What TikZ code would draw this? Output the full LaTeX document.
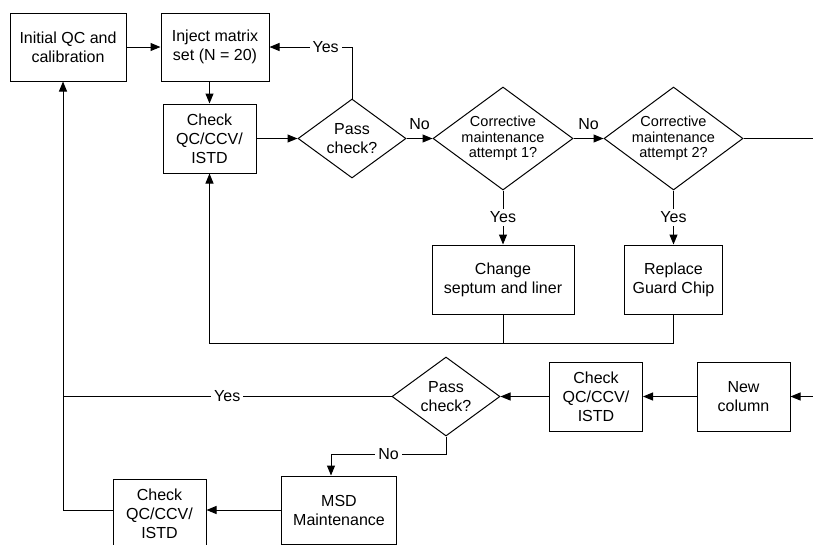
\documentclass[tikz,border=0pt]{standalone}
\usepackage{fontspec}
\setmainfont{Liberation Sans}
\usetikzlibrary{arrows.meta,shapes.geometric}

\begin{document}
\begin{tikzpicture}[
    x=1pt, y=-1pt,
    every node/.style={font=\fontsize{16}{19}\selectfont},
    box/.style={rectangle, draw, line width=1pt, align=center, inner sep=0pt},
    decision/.style={diamond, draw, line width=1pt, inner sep=0pt},
    dtext/.style={align=center},
    smalltext/.style={align=center, font=\fontsize{14.5}{15.5}\selectfont},
    arrow/.style={-{Triangle[length=10pt,width=8pt]}, line width=1pt},
    line/.style={line width=1pt},
    lbl/.style={fill=white, inner sep=3pt}
]
\useasboundingbox (0,0) rectangle (813,544);
\clip (0,0) rectangle (813,544);

% Nodes
\node[box, minimum width=116, minimum height=68] (init) at (68,47) {Initial QC and\\calibration};
\node[box, minimum width=108, minimum height=68] (inject) at (215,47) {Inject matrix\\set (N = 20)};
\node[box, minimum width=93, minimum height=69] (check1) at (209.5,138.5) {Check\\QC/CCV/\\ISTD};
\node[decision, minimum width=108, minimum height=79, label={[dtext]center:Pass\\check?}] (pass1) at (352,138.5) {};
\node[decision, minimum width=140, minimum height=103, label={[smalltext]center:Corrective\\maintenance\\attempt 1?}] (attempt1) at (503,138.5) {};
\node[decision, minimum width=139, minimum height=103, label={[smalltext]center:Corrective\\maintenance\\attempt 2?}] (attempt2) at (673.5,138.5) {};
\node[box, minimum width=142, minimum height=69] (septum) at (503,279.5) {Change\\septum and liner};
\node[box, minimum width=98, minimum height=69] (guard) at (673.5,279.5) {Replace\\Guard Chip};
\node[box, minimum width=93, minimum height=69] (newcol) at (743.5,396.5) {New\\column};
\node[box, minimum width=93, minimum height=69] (check2) at (596,396.5) {Check\\QC/CCV/\\ISTD};
\node[decision, minimum width=108, minimum height=79, label={[dtext]center:Pass\\check?}] (pass2) at (446,396.5) {};
\node[box, minimum width=115, minimum height=68] (msd) at (339,510) {MSD\\Maintenance};
\node[box, minimum width=93, minimum height=69] (check3) at (159.5,514) {Check\\QC/CCV/\\ISTD};

\coordinate (outr) at (813,138.5);
\coordinate (inr) at (813,396.5);
\coordinate (join) at (503,343);
\coordinate (loop) at (63,510);
\coordinate (yesj) at (63,396.5);

% Arrows
\draw[arrow] (init) -- (inject);
\draw[arrow] (inject.south -| check1) -- (check1.north);
\draw[arrow] (check1) -- (pass1);
\draw[arrow] (pass1.north) |- node[lbl, pos=0.66] {Yes} (inject.east);
\draw[arrow] (pass1) -- node[above=5pt] {No} (attempt1);
\draw[arrow] (attempt1) -- node[above=5pt] {No} (attempt2);
\draw[line] (attempt2) -- (outr);
\draw[arrow] (attempt1) -- node[lbl] {Yes} (septum);
\draw[arrow] (attempt2) -- node[lbl] {Yes} (guard);
\draw[line] (guard.south) |- (join);
\draw[arrow] (septum.south) -- (join) -| (check1.south);
\draw[arrow] (inr) -- (newcol);
\draw[arrow] (newcol) -- (check2);
\draw[arrow] (check2) -- (pass2);
\draw[line] (pass2) -- node[lbl] {Yes} (yesj);
\draw[arrow] (pass2.south) -- ++(0,17.5) -| node[lbl, pos=0.25] {No} ([xshift=-8pt]msd.north);
\draw[arrow] (msd.west) -- (msd.west -| check3.east);
\draw[arrow] (check3.west |- msd.west) -- (loop) -- (init.south -| loop);

\end{tikzpicture}
\end{document}
